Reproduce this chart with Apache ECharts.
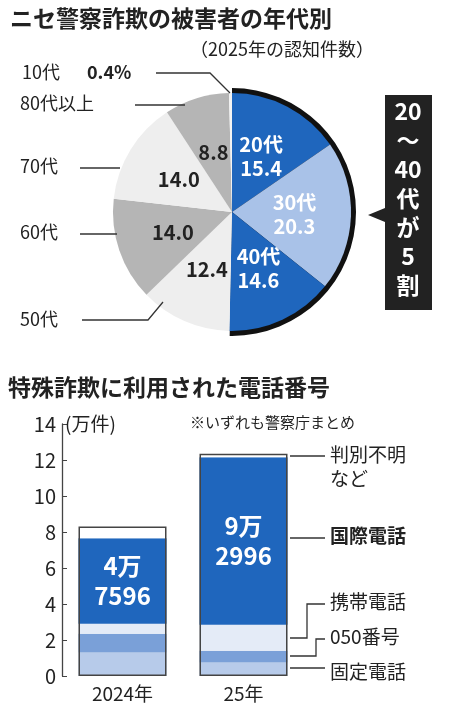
<!DOCTYPE html><html><head><meta charset="utf-8"><script src="https://cdn.jsdelivr.net/npm/echarts@6/dist/echarts.min.js"></script>
<style>body{margin:0;background:#fff}#c{width:455px;height:714px}</style></head><body><div id="c"></div><script>
const ages=['20代','30代','40代','50代','60代','70代','80代以上','10代'];
const shares=[15.4,20.3,14.6,12.4,14.0,14.0,8.8,0.4];
const years=['2024年','25年'];
const fixedLine=[1.3,0.75];
const ip050=[1.05,0.65];
const mobile=[0.55,1.45];
const intl=[4.7596,9.2996];
const unknown=[0.64,0.2];
const yTicks=[0,2,4,6,8,10,12,14];
const F='"Noto Sans CJK JP"';
const pieColors=['#1f66bd','#a9c2e8','#1f66bd','#eeeeee','#b5b5b5','#eeeeee','#b5b5b5','#f4f4f4'];
const inLbl=['20代\n15.4','30代\n20.3','40代\n14.6','12.4','14.0','14.0','8.8',''];
const lblCol=['#fff','#fff','#fff','#222','#222','#222','#222','#222'];
const chart=echarts.init(document.getElementById('c'));
const T=(x,y,t,s,w)=>({type:'text',left:x,top:y,z:10,style:{text:t,font:(w||'normal')+' '+s+'px '+F,fill:'#222',lineHeight:s+5}});
const L=(pts)=>({type:'polyline',z:10,shape:{points:pts},style:{stroke:'#333',lineWidth:1.3,fill:null}});
chart.setOption({
 animation:false,
 textStyle:{fontFamily:F},
 graphic:[
  T(10,4,'ニセ警察詐欺の被害者の年代別',23,'bold'),
  T(190,38,'（2025年の認知件数）',18),
  T(22,61,'10代',18),T(87,61,'0.4%',18,'bold'),
  T(20,92,'80代以上',18),T(20,155,'70代',18),T(20,221,'60代',18),T(20,308,'50代',18),
  L([[156,73],[210,73],[230,93]]),L([[135,105],[185,105]]),L([[80,168],[120,168]]),L([[80,234],[117,234]]),L([[82,320],[148,320],[163,302]]),
  {type:'polygon',z:10,shape:{points:[[385,95],[432,95],[432,310],[385,310],[385,222],[368,215],[385,208]]},style:{fill:'#222'}},
  {type:'text',z:11,x:408,y:97,style:{text:'20\n〜\n40\n代\nが\n5\n割',font:'bold 23px '+F,fill:'#fff',align:'center',lineHeight:29}},
  T(8,373,'特殊詐欺に利用された電話番号',23,'bold'),
  T(65,412,'(万件)',19),
  T(190,412,'※いずれも警察庁まとめ',15),
  T(330,443,'判別不明\nなど',19),
  T(330,524,'国際電話',19,'bold'),
  T(330,590,'携帯電話',19),T(330,625,'050番号',19),T(330,660,'固定電話',19),
  L([[290,456],[325,456]]),L([[290,538],[325,538]]),L([[290,638],[307,638],[307,604],[325,604]]),L([[290,656],[316,656],[316,639],[325,639]]),L([[290,668],[325,668]])
 ],
 series:[
  {type:'pie',center:[232,212],radius:[0,124],startAngle:90,clockwise:true,silent:true,z:1,label:{show:false},
   data:[{value:shares[0]+shares[1]+shares[2],itemStyle:{color:'#111'}},{value:100-shares[0]-shares[1]-shares[2],itemStyle:{color:'rgba(0,0,0,0)'}}]},
  {type:'pie',center:[232,212],radius:[0,119],startAngle:90,clockwise:true,silent:true,z:2,minAngle:1,
   itemStyle:{borderWidth:0},
   data:shares.map((v,i)=>({value:v,name:ages[i],itemStyle:{color:pieColors[i]},label:{color:lblCol[i],formatter:inLbl[i]}})),
   label:{show:true,position:'inside',fontSize:20,fontWeight:'bold',lineHeight:24,fontFamily:F},labelLine:{show:false}},
  ...[['固定',fixedLine,'#b7cbea'],['050',ip050,'#7aa0d8'],['携帯',mobile,'#e4ebf7'],['国際',intl,'#1f66bd'],['不明',unknown,'#ffffff']].map(([n,d,c])=>({
   type:'bar',name:n,stack:'a',data:d,barWidth:88,itemStyle:{color:c},
   label:n==='国際'?{show:true,formatter:p=>{const v=Math.round(p.value*10000);return Math.floor(v/10000)+'万\n'+(v%10000);},position:'inside',color:'#fff',fontSize:24,fontWeight:'bold',lineHeight:30}:{show:false}})),
  {type:'bar',stack:'b',barGap:'-100%',barWidth:88,silent:true,z:5,data:fixedLine.map((v,i)=>v+ip050[i]+mobile[i]+intl[i]+unknown[i]),itemStyle:{color:'rgba(0,0,0,0)',borderColor:'#444',borderWidth:1.5}}
 ],
 grid:{left:62,right:151,top:424,bottom:38},
 xAxis:{type:'category',data:years,axisLine:{show:false},axisTick:{show:false},axisLabel:{fontSize:19,color:'#222',margin:8}},
 yAxis:{type:'value',min:0,max:14,interval:2,axisLine:{show:true,lineStyle:{color:'#444',width:1.3}},axisTick:{show:true,inside:true,length:5,lineStyle:{color:'#444'}},splitLine:{show:false},
  axisLabel:{fontSize:20,color:'#222',margin:6,formatter:v=>yTicks.includes(v)?String(v):''}}
});
</script></body></html>
